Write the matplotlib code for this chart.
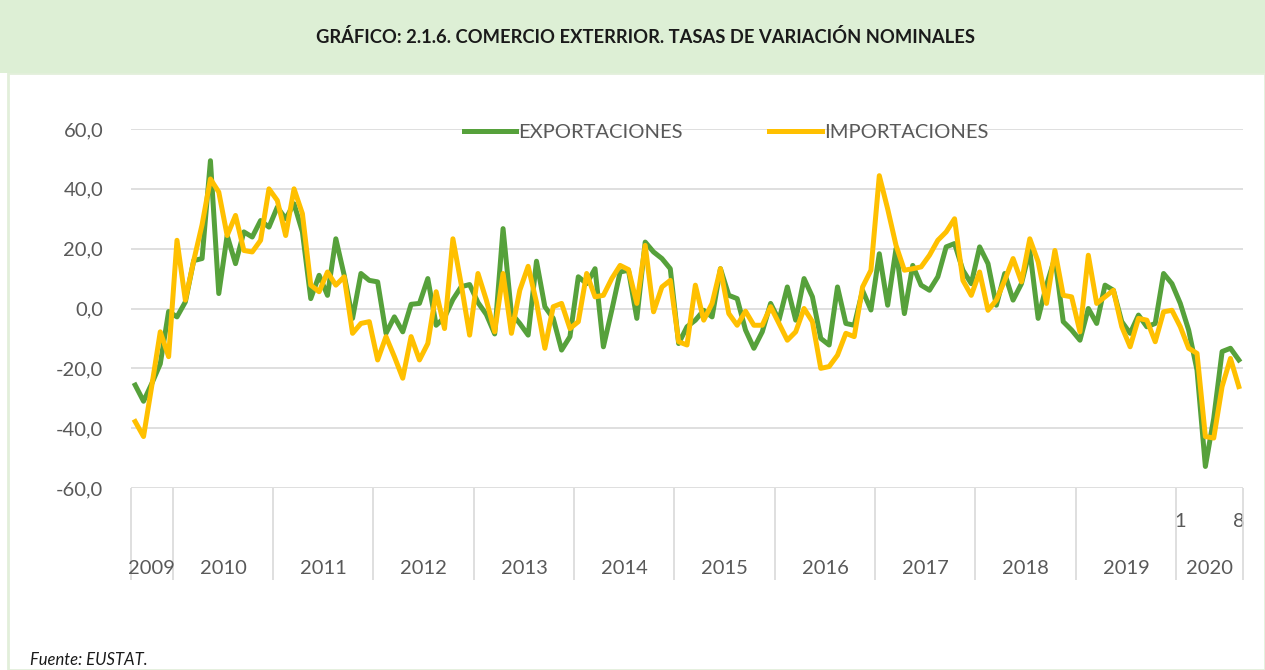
import matplotlib
matplotlib.use("Agg")
import matplotlib.pyplot as plt
import matplotlib.transforms as mtransforms
from matplotlib.patches import Rectangle

plt.rcParams['font.family'] = ['Lato', 'DejaVu Sans']

# meses: ago 2009 - ago 2020
years = ['2009', '2010', '2011', '2012', '2013', '2014', '2015',
         '2016', '2017', '2018', '2019', '2020']
months_per_year = [5, 12, 12, 12, 12, 12, 12, 12, 12, 12, 12, 8]
month_labels = {125: '1', 132: '8'}

exportaciones = [
    -25.6, -31.0, -25.0, -18.5, -1.0,
    -2.8, 2.2, 16.0, 16.7, 49.4, 5.0, 24.4, 15.0, 25.6, 23.9, 29.4, 27.2,
    33.9, 30.0, 35.0, 25.6, 3.3, 11.1, 4.4, 23.3, 11.1, -3.3, 11.7, 9.4,
    8.9, -8.3, -2.8, -7.8, 1.4, 1.7, 10.0, -5.6, -3.0, 3.0, 7.3, 8.0,
    2.0, -2.0, -8.5, 26.7, -1.7, -5.0, -8.9, 15.8, 0.6, -3.3, -13.9, -9.4,
    10.6, 8.3, 13.3, -12.8, -0.6, 12.2, 12.8, -3.3, 22.2, 18.9, 16.7, 13.3,
    -11.7, -6.1, -3.9, -0.6, -2.8, 13.3, 4.4, 3.3, -7.2, -13.3, -7.8, 1.7,
    -3.9, 7.2, -3.9, 10.0, 3.9, -10.0, -12.2, 7.2, -5.0, -5.6, 6.0, -0.5,
    18.3, 1.1, 20.0, -1.7, 14.4, 7.8, 6.1, 10.6, 20.6, 21.7, 12.8, 8.3,
    20.6, 15.0, 1.1, 11.7, 2.8, 8.3, 19.4, -3.3, 7.8, 17.0, -4.4, -7.2,
    -10.6, 0.0, -5.0, 7.8, 6.1, -4.4, -8.3, -2.2, -6.1, -5.0, 11.7, 8.3,
    1.7, -7.2, -20.6, -52.8, -36.7, -14.4, -13.3, -17.2,
]

importaciones = [
    -37.8, -42.8, -25.6, -7.8, -16.1,
    22.8, 2.8, 16.0, 28.0, 43.3, 38.9, 24.4, 31.1, 19.4, 18.9, 22.8, 40.0,
    36.1, 24.4, 40.0, 31.7, 7.8, 5.6, 12.2, 7.8, 10.6, -8.3, -5.0, -4.4,
    -17.2, -9.4, -16.1, -23.3, -9.4, -17.2, -11.7, 5.6, -6.7, 23.3, 8.0, -8.9,
    11.7, 2.8, -7.8, 11.7, -8.3, 6.1, 14.1, 2.0, -13.3, 0.6, 1.7, -6.7,
    -4.4, 11.7, 3.9, 4.4, 10.0, 14.4, 13.0, 1.7, 21.1, -1.1, 7.2, 9.4,
    -11.1, -12.2, 7.8, -3.9, 1.7, 13.3, -1.7, -5.6, -0.9, -5.6, -5.6, 0.6,
    -5.0, -10.6, -7.8, 0.0, -4.4, -20.0, -19.4, -15.6, -8.3, -9.4, 7.2, 12.8,
    44.4, 33.3, 21.1, 12.8, 13.3, 13.9, 17.8, 22.8, 25.6, 30.0, 9.4, 4.4,
    12.2, -0.6, 2.8, 9.4, 16.7, 8.9, 23.3, 15.6, 1.7, 19.4, 4.4, 3.9,
    -7.8, 17.8, 1.7, 3.9, 6.1, -6.1, -12.8, -3.3, -3.9, -11.1, -1.1, -0.6,
    -6.1, -13.3, -15.0, -42.8, -43.3, -26.1, -16.7, -26.1,
]

W, H = 1265, 670
fig = plt.figure(figsize=(W / 100, H / 100), dpi=100)
fig.patch.set_facecolor('white')

# banda del título y marco
fig.add_artist(Rectangle((8 / W, 0), 1 - 8 / W, 1 - 73 / H, transform=fig.transFigure,
                         facecolor='none', edgecolor='#E2EFDA', lw=2))
fig.add_artist(Rectangle((0, 1 - 73 / H), 1, 73 / H, transform=fig.transFigure,
                         facecolor='#DDEFD5', edgecolor='none'))
fig.text(645 / W, 1 - 37 / H,
         'GRÁFICO: 2.1.6. COMERCIO EXTERRIOR. TASAS DE VARIACIÓN NOMINALES',
         ha='center', va='center', fontsize=13.2, fontweight='bold', color='#1a1a1a')
fig.text(30 / W, 1 - 660 / H, 'Fuente: EUSTAT.', ha='left', va='center',
         fontsize=12, style='italic', color='#1a1a1a')

ax = fig.add_axes([131 / W, 1 - 488 / H, (1243 - 131) / W, (488 - 129) / H])
x = list(range(len(exportaciones)))
ax.plot(x, exportaciones, color='#56A13B', lw=3.6, label='EXPORTACIONES',
        solid_joinstyle='round', zorder=3)
ax.plot(x, importaciones, color='#FFC000', lw=3.6, label='IMPORTACIONES',
        solid_joinstyle='round', zorder=4)

ax.set_xlim(-0.5, len(x) - 0.5)
ax.set_ylim(-60, 60)
ax.set_yticks(range(-60, 61, 20))
ax.set_yticklabels([f'{v},0' for v in range(-60, 61, 20)])
ax.yaxis.grid(True, color='#D9D9D9', lw=1.2)
ax.set_axisbelow(True)
for s in ax.spines.values():
    s.set_visible(False)
ax.tick_params(axis='y', length=0, pad=20, labelsize=14.5, labelcolor='#595959')

ax.set_xticks(list(month_labels.keys()))
ax.set_xticklabels(list(month_labels.values()))
ax.tick_params(axis='x', length=0, pad=18, labelsize=14.5, labelcolor='#595959')

# eje de categorías con años
trans = mtransforms.blended_transform_factory(ax.transData, ax.transAxes)
bounds = [-0.5]
for n in months_per_year:
    bounds.append(bounds[-1] + n)
ax.vlines(bounds, -92 / 359, 0, transform=trans, color='#D9D9D9', lw=1.2, clip_on=False)
for i, yr in enumerate(years):
    ax.text((bounds[i] + bounds[i + 1]) / 2, -80 / 359, yr, transform=trans,
            ha='center', va='center', fontsize=14.5, color='#595959')

ax.legend(loc='center', bbox_to_anchor=(0.535, 0.989), ncol=2, frameon=False,
          fontsize=14.5, handlelength=2.6, handletextpad=0.1, columnspacing=4.3,
          labelcolor='#595959')

fig.savefig('out.png', dpi=100)
